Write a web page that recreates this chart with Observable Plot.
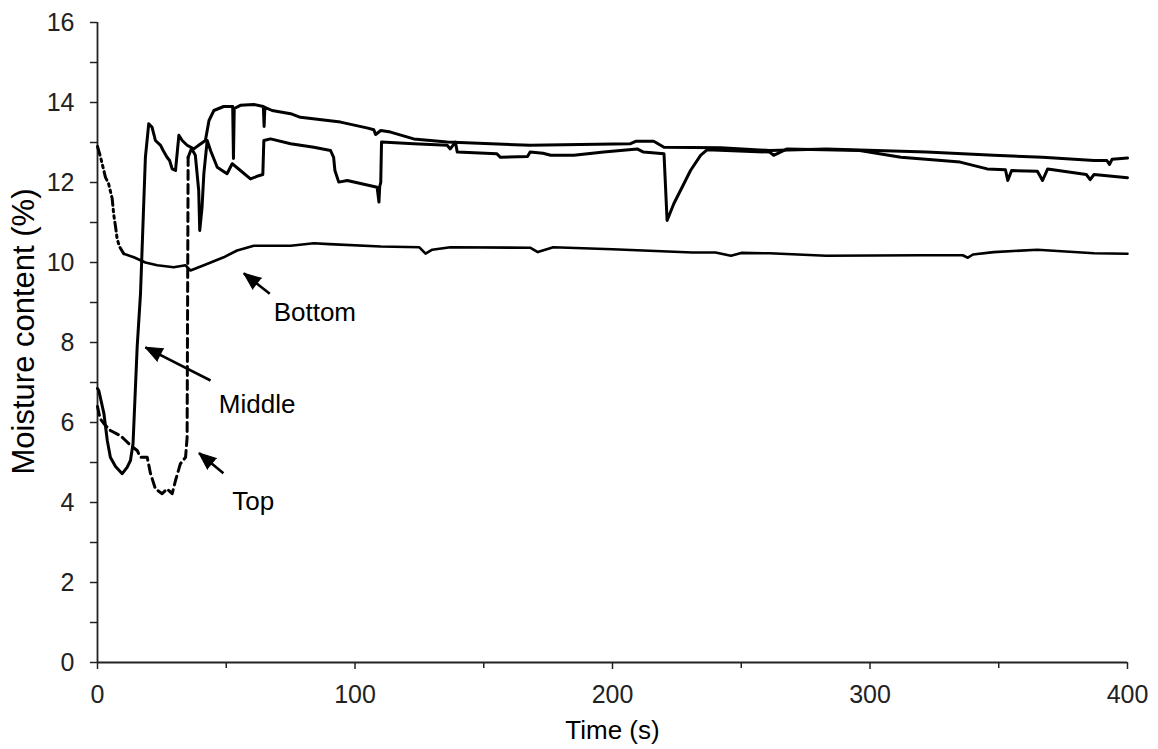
<!DOCTYPE html>
<html>
<head>
<meta charset="utf-8">
<script src="https://cdn.jsdelivr.net/npm/d3@7"></script>
<script src="https://cdn.jsdelivr.net/npm/@observablehq/plot@0.6"></script>
<style>
  html, body { margin: 0; padding: 0; background: #fff; }
  #chart { width: 1158px; height: 749px; }
</style>
</head>
<body>
<div id="chart"></div>
<script>
// ---- Data ----
const bottomT = [0, 1.2, 3.1, 4.3, 5.7, 6.3, 7.0, 7.6, 8.5, 10.2, 14.1, 18.6, 23.2, 29.6, 34.2, 36.1, 41.3, 49, 54.2, 60.7, 75, 84, 90, 110, 125, 127.4, 130, 137, 168, 171, 177, 200, 231, 240, 246, 250, 261, 283, 320, 336, 338, 340, 348, 365, 387, 400];
const bottomV = [12.9, 12.63, 12.13, 11.97, 11.6, 11.2, 10.9, 10.6, 10.4, 10.22, 10.13, 10.0, 9.93, 9.88, 9.93, 9.8, 9.93, 10.13, 10.3, 10.42, 10.42, 10.48, 10.46, 10.4, 10.38, 10.22, 10.32, 10.38, 10.37, 10.26, 10.38, 10.33, 10.25, 10.25, 10.17, 10.24, 10.23, 10.17, 10.18, 10.18, 10.12, 10.2, 10.26, 10.32, 10.23, 10.22];

const middleT = [0, 0.5, 2.5, 3.8, 5, 7, 9.6, 11.5, 12.8, 13.8, 15.4, 16.7, 18.6, 19.9, 21.2, 22.5, 24.5, 25.5, 27, 28, 29, 30.3, 31.6, 32.9, 34.8, 37.4, 39.3, 41.9, 43.3, 45.2, 49, 52.5, 52.8, 53.1, 55.5, 60.7, 64.4, 64.7, 65, 67.8, 75, 78.8, 94.4, 105, 107.3, 108, 110, 113.8, 122.8, 135.8, 168, 207, 209, 216, 220, 242, 261, 283, 322, 348, 367, 387, 392, 393, 394, 400];
const middleV = [6.85, 6.8, 6.22, 5.55, 5.13, 4.9, 4.72, 4.88, 5.05, 5.47, 7.88, 9.22, 12.63, 13.47, 13.38, 13.05, 12.93, 12.8, 12.63, 12.55, 12.34, 12.3, 13.18, 13.05, 12.93, 12.84, 12.93, 13.05, 13.55, 13.8, 13.9, 13.9, 12.6, 13.85, 13.93, 13.95, 13.9, 13.4, 13.88, 13.8, 13.72, 13.63, 13.51, 13.36, 13.32, 13.2, 13.3, 13.26, 13.09, 13.01, 12.93, 12.97, 13.03, 13.03, 12.88, 12.87, 12.8, 12.84, 12.76, 12.68, 12.63, 12.55, 12.55, 12.45, 12.58, 12.61];

const topT = [0, 1, 2.5, 5, 8.9, 10.9, 12.8, 15.4, 16.7, 19.3, 20.6, 22.5, 25.1, 27, 29, 30.3, 32.2, 34.2, 34.8, 35.2, 36.5, 38, 39.3, 39.7, 40.6, 41.3, 42.6, 43.9, 46.5, 50.3, 52.3, 55.5, 59.4, 62.6, 64.2, 64.6, 67.2, 75, 84, 90.5, 91.7, 92.2, 93.7, 97, 108.6, 109.3, 109.6, 110, 110.3, 122.8, 135.8, 137, 139, 139.7, 155, 156.5, 167, 168, 173, 176, 185, 196.6, 209.6, 212, 220, 221.2, 223.8, 226.4, 230.3, 234.2, 236.8, 261, 262.6, 267.8, 296, 312, 335, 345.5, 352.6, 353.5, 355, 365, 367, 369, 384, 385.5, 387, 400];
const topV = [6.4, 6.1, 5.97, 5.8, 5.67, 5.55, 5.43, 5.3, 5.13, 5.13, 4.72, 4.34, 4.22, 4.34, 4.22, 4.55, 4.97, 5.13, 5.63, 12.63, 12.85, 12.68, 11.8, 10.8, 11.38, 12.22, 13.05, 12.8, 12.38, 12.22, 12.47, 12.3, 12.09, 12.17, 12.2, 13.05, 13.09, 12.97, 12.88, 12.8, 12.63, 12.3, 12.01, 12.05, 11.88, 11.51, 11.9, 12.0, 13.01, 12.97, 12.93, 12.84, 13.01, 12.76, 12.72, 12.63, 12.65, 12.76, 12.73, 12.68, 12.68, 12.76, 12.84, 12.76, 12.72, 11.05, 11.47, 11.8, 12.3, 12.68, 12.82, 12.76, 12.68, 12.84, 12.8, 12.63, 12.51, 12.34, 12.32, 12.05, 12.3, 12.28, 12.05, 12.34, 12.2, 12.07, 12.2, 12.12];

// annotations
const labelNames = ["Bottom", "Middle", "Top"];
const labelT = [68.4, 47.1, 52.3];
const labelV = [8.74, 6.45, 4.03];
const arrowTailT = [66.9, 43.9, 48.9];
const arrowTailV = [9.22, 7.05, 4.73];
const arrowTipT = [56.8, 18.6, 39.4];
const arrowTipV = [9.73, 7.88, 5.24];

// ticks
const xTicks = [0, 100, 200, 300, 400];
const xMinorTicks = [50, 150, 250, 350];
const yTicks = [0, 2, 4, 6, 8, 10, 12, 14, 16];
const yMinorTicks = [1, 3, 5, 7, 9, 11, 13, 15];

// ---- Layout ----
const W = 1158, H = 749;
const mL = 97, mR = 31, mT = 22, mB = 87;
const xDomain = [0, 400], yDomain = [0, 16];

const toRows = (T, V) => T.map((t, i) => ({t, v: V[i]}));
const bottomRows = toRows(bottomT, bottomV);
const middleRows = toRows(middleT, middleV);
const topRows = toRows(topT, topV);

const dashEndTop = 35.2;     // dashed part of Top series
const dashEndBottom = 10.2;  // dash-dot part of Bottom series

// arrow geometry via the library's scales
const sx = Plot.scale({x: {domain: xDomain, range: [mL, W - mR]}});
const sy = Plot.scale({y: {domain: yDomain, range: [H - mB, mT]}});
const arrows = labelNames.map((name, i) => {
  const dx = sx.apply(arrowTipT[i]) - sx.apply(arrowTailT[i]);
  const dy = sy.apply(arrowTipV[i]) - sy.apply(arrowTailV[i]);
  return {
    name,
    t1: arrowTailT[i], v1: arrowTailV[i],
    t2: arrowTipT[i], v2: arrowTipV[i],
    angle: Math.atan2(dx, -dy) * 180 / Math.PI
  };
});
const labels = labelNames.map((name, i) => ({name, t: labelT[i], v: labelV[i]}));

const axisColor = "#222";
const font = "'Liberation Sans', Arial, Helvetica, sans-serif";

const chart = Plot.plot({
  width: W, height: H,
  marginLeft: mL, marginRight: mR, marginTop: mT, marginBottom: mB,
  style: {fontFamily: font, fontSize: "24px", color: "#000", background: "#fff", overflow: "visible"},
  x: {domain: xDomain},
  y: {domain: yDomain},
  marks: [
    Plot.axisX({ticks: xTicks, tickSize: 7, tickPadding: 16, label: null, stroke: axisColor, strokeWidth: 1.5, fill: axisColor, fontSize: 25}),
    Plot.axisX({ticks: xMinorTicks, tickSize: 6, tickFormat: () => "", label: null, stroke: axisColor, strokeWidth: 1.5}),
    Plot.axisY({ticks: yTicks, tickSize: 7, tickPadding: 16, label: null, stroke: axisColor, strokeWidth: 1.5, fill: axisColor, fontSize: 25}),
    Plot.axisY({ticks: yMinorTicks, tickSize: 7, tickFormat: () => "", label: null, stroke: axisColor, strokeWidth: 1.5}),
    Plot.ruleY([0], {stroke: axisColor, strokeWidth: 1.8}),
    Plot.ruleX([0], {stroke: axisColor, strokeWidth: 1.8}),

    // Bottom series
    Plot.line(bottomRows.filter(d => d.t <= dashEndBottom), {x: "t", y: "v", stroke: "black", strokeWidth: 3, strokeDasharray: "9,4,2.5,4,2.5,4"}),
    Plot.line(bottomRows.filter(d => d.t >= dashEndBottom), {x: "t", y: "v", stroke: "black", strokeWidth: 2.6, strokeLinejoin: "round"}),
    // Middle series
    Plot.line(middleRows, {x: "t", y: "v", stroke: "black", strokeWidth: 3, strokeLinejoin: "round"}),
    // Top series
    Plot.line(topRows.filter(d => d.t <= dashEndTop), {x: "t", y: "v", stroke: "black", strokeWidth: 3, strokeDasharray: "9,5"}),
    Plot.line(topRows.filter(d => d.t >= dashEndTop), {x: "t", y: "v", stroke: "black", strokeWidth: 3, strokeLinejoin: "round"}),

    // annotation arrows
    Plot.link(arrows, {x1: "t1", y1: "v1", x2: "t2", y2: "v2", stroke: "black", strokeWidth: 2.6}),
    Plot.vector(arrows, {x: "t2", y: "v2", rotate: "angle", length: 17, r: 7, shape: "spike", anchor: "end", fill: "black", stroke: "black", strokeWidth: 1}),
    Plot.text(labels, {x: "t", y: "v", text: "name", textAnchor: "start", lineAnchor: "middle", fontSize: 26, fill: "black"}),

    // axis titles
    Plot.text(["Time (s)"], {frameAnchor: "bottom", dy: 68, fontSize: 26, fill: "black", lineAnchor: "middle", textAnchor: "middle"}),
    Plot.text(["Moisture content (%)"], {frameAnchor: "left", dx: -73, dy: -11, rotate: -90, fontSize: 31, fill: "black", lineAnchor: "middle", textAnchor: "middle", style: "letter-spacing: 1.4px"})
  ]
});
document.getElementById("chart").appendChild(chart);
</script>
</body>
</html>
